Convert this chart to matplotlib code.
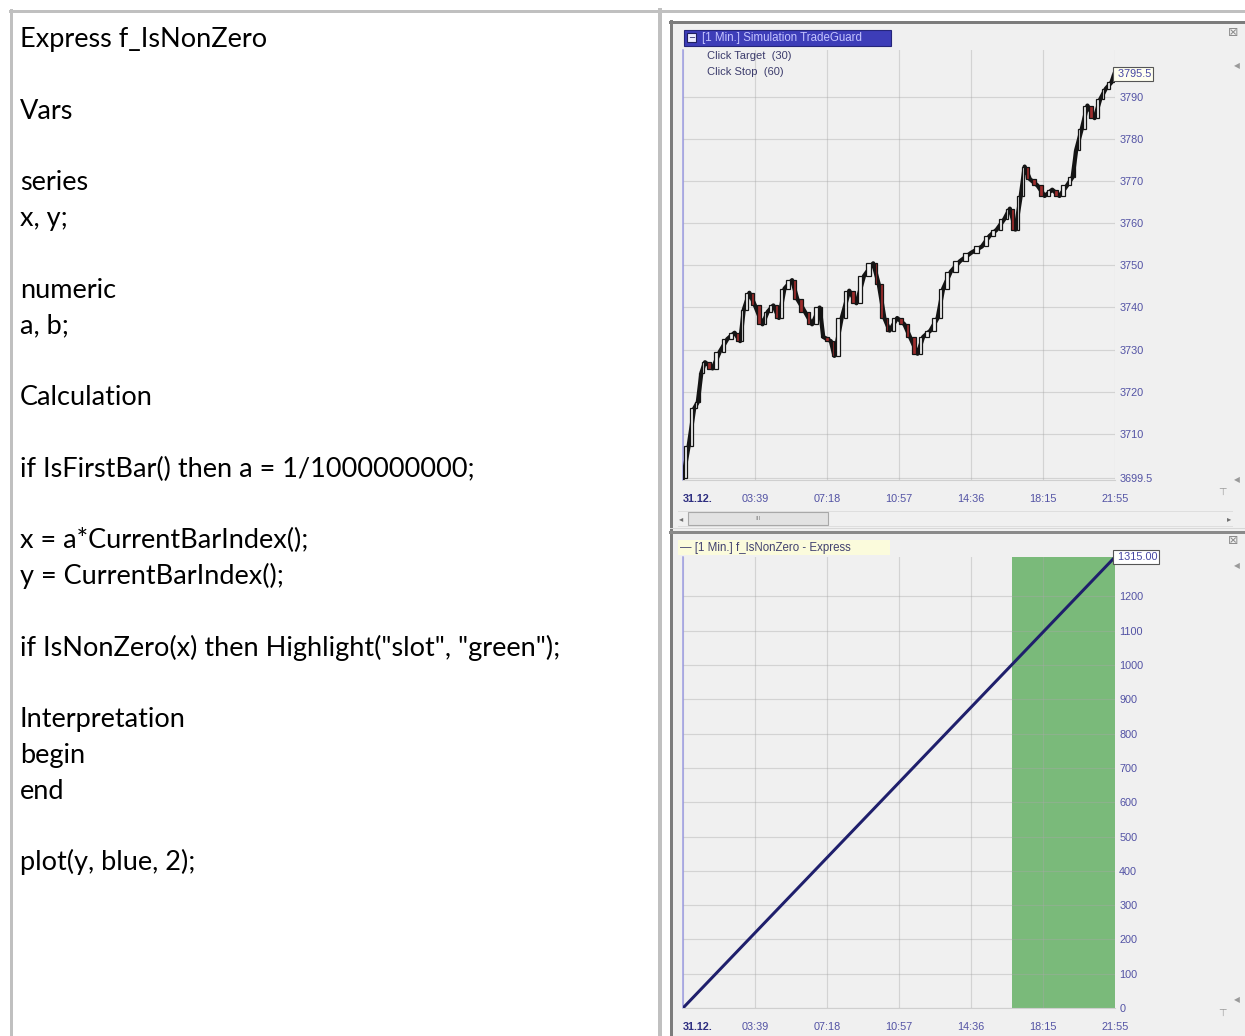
import matplotlib
matplotlib.use("Agg")
import matplotlib.pyplot as plt
from matplotlib.patches import Rectangle
import numpy as np

W, H = 1245, 1036

# text in the left cell (empty strings are blank lines)
code_lines = [
    "Express f_IsNonZero", "", "Vars", "", "series", "x, y;", "",
    "numeric", "a, b;", "", "Calculation", "",
    "if IsFirstBar() then a = 1/1000000000;", "",
    "x = a*CurrentBarIndex();", "y = CurrentBarIndex();", "",
    'if IsNonZero(x) then Highlight("slot", "green");', "",
    "Interpretation", "begin", "end", "", "plot(y, blue, 2);",
]

# time axis (bar index = minutes since 00:00)
time_ticks = [0, 219, 438, 657, 876, 1095, 1315]
time_labels = ["31.12.", "03:39", "07:18", "10:57", "14:36", "18:15", "21:55"]

# price chart
price_bars = [0, 17, 34, 45, 56, 67, 90, 112, 135, 157, 174, 185, 202, 219,
              242, 258, 275, 292, 309, 332, 348, 371, 393, 416, 427, 450,
              461, 483, 506, 528, 551, 579, 596, 613, 629, 652, 674, 691,
              714, 731, 753, 775, 792, 815, 843, 877, 910, 933, 955, 978,
              995, 1012, 1028, 1040, 1056, 1079, 1101, 1124, 1146, 1169,
              1186, 1197, 1214, 1231, 1253, 1270, 1287, 1304, 1313]
price_close = [3699.5, 3707, 3716, 3717.5, 3724.5, 3727, 3725.5, 3729.5,
               3732.5, 3734, 3732, 3739.5, 3743.5, 3740.5, 3736, 3739,
               3740.5, 3737.5, 3744.5, 3746.5, 3742, 3739, 3736, 3740,
               3733, 3732, 3728.5, 3737.5, 3744, 3741, 3747.5, 3750.5,
               3745.5, 3737.5, 3734.5, 3737.5, 3736, 3733, 3729, 3733,
               3734.5, 3737.5, 3744.5, 3748.5, 3751, 3753, 3754.5, 3757,
               3758.5, 3761, 3763.5, 3758.5, 3766.5, 3773.5, 3770.5, 3769,
               3766.5, 3768, 3766.5, 3769, 3771, 3777.5, 3782.5, 3788,
               3785, 3789.5, 3792, 3793.5, 3795.5]
price_ticks = [3699.5, 3710, 3720, 3730, 3740, 3750, 3760, 3770, 3780, 3790]
price_tick_labels = ["3699.5", "3710", "3720", "3730", "3740", "3750",
                     "3760", "3770", "3780", "3790"]
price_last = 3795.5

# indicator pane
ind_bars = [0, 1315]
ind_values = [0, 1315]
ind_ticks = [0, 100, 200, 300, 400, 500, 600, 700, 800, 900, 1000, 1100, 1200]
ind_last = 1315
highlight_from = 1000
highlight_to = 1315

AXIS_BLUE = "#5252a4"
CHART_FONT = "Liberation Sans"


def pt(pixels):
    return pixels * 72 / 100


fig = plt.figure(figsize=(W / 100, H / 100), dpi=100)
fig.patch.set_facecolor("white")

bg = fig.add_axes([0, 0, 1, 1])
bg.set_xlim(0, W)
bg.set_ylim(H, 0)
bg.axis("off")


def overlay_text(x, y, s, **kw):
    # figure-level text in pixel coords, drawn above all panes
    kw.setdefault("family", CHART_FONT)
    return fig.text(x, y, s, transform=bg.transData, **kw)


# table borders
bg.plot([10, W], [11, 11], color="#c0c0c0", lw=pt(3))
bg.plot([11, 11], [10, H], color="#c0c0c0", lw=pt(3))
bg.plot([660, 660], [10, H], color="#c0c0c0", lw=pt(4))

# left cell text
for i, line in enumerate(code_lines):
    bg.text(20, 47 + 35.8 * i, line, ha="left", va="baseline",
            fontsize=19.5, family="Lato", color="black")

# screenshot background
bg.add_patch(Rectangle((670, 21), W - 670, H - 21, facecolor="#f0f0f0",
                       edgecolor="none"))
bg.plot([671, 671], [21, H], color="#7c7c7c", lw=pt(3))
bg.plot([670, W], [22, 22], color="#7c7c7c", lw=pt(3))

# top pane header
bg.add_patch(Rectangle((684, 30), 207, 16, facecolor="#3d3db8",
                       edgecolor="#25257a", lw=0.8))
bg.add_patch(Rectangle((687, 33), 9, 9, facecolor="#ececff",
                       edgecolor="#202060", lw=0.8))
bg.text(691.5, 37.5, "−", ha="center", va="center", fontsize=6,
        color="#202060", family="DejaVu Sans")
bg.text(702, 38, "[1 Min.] Simulation TradeGuard", ha="left", va="center",
        fontsize=8.3, color="#c4c4ff", family=CHART_FONT)

# scrollbar under the top pane
bg.plot([678, 1232], [511, 511], color="#dedede", lw=pt(1))
bg.plot([678, 1232], [526, 526], color="#dedede", lw=pt(1))
bg.add_patch(Rectangle((688, 512), 140, 13, facecolor="#e2e2e2",
                       edgecolor="#a8a8a8", lw=0.8))
bg.text(758, 518.5, "III", ha="center", va="center", fontsize=4.5,
        color="#808080", family=CHART_FONT)
bg.text(681, 518.5, "◂", ha="center", va="center", fontsize=6,
        color="#707070", family="DejaVu Sans")
bg.text(1229, 518.5, "▸", ha="center", va="center", fontsize=6,
        color="#707070", family="DejaVu Sans")

# pane separator
bg.plot([670, W], [528, 528], color="#d8d8d8", lw=pt(1))
bg.plot([670, W], [531.5, 531.5], color="#8a8a8a", lw=pt(3))

# bottom pane header
bg.add_patch(Rectangle((678, 540), 212, 15, facecolor="#fbfbdc",
                       edgecolor="none"))
bg.text(680, 547.5, "— [1 Min.] f_IsNonZero - Express", ha="left",
        va="center", fontsize=8.3, color="#404070", family=CHART_FONT)

# small window icons on the right edge
for y in (33, 541):
    bg.text(1233, y, "⊠", ha="center", va="center", fontsize=9,
            color="#8a8a8a", family="DejaVu Sans")
for y in (66, 480, 566, 1000):
    bg.text(1237, y, "◀", ha="center", va="center", fontsize=5.5,
            color="#9a9a9a", family="DejaVu Sans")
for y in (492, 1013):
    bg.text(1222, y, "⊤", ha="center", va="center", fontsize=7,
            color="#9a9a9a", family="DejaVu Sans")


def pane(x0, y0, x1, y1):
    ax = fig.add_axes([x0 / W, 1 - y1 / H, (x1 - x0) / W, (y1 - y0) / H])
    ax.set_facecolor("#f0f0f0")
    ax.yaxis.tick_right()
    ax.tick_params(length=0, labelsize=7.8, labelcolor=AXIS_BLUE)
    ax.tick_params(axis="y", pad=3)
    ax.tick_params(axis="x", pad=10)
    for side in ("top", "right"):
        ax.spines[side].set_visible(False)
    ax.spines["left"].set_color("#9a9ae2")
    ax.spines["left"].set_linewidth(pt(1.5))
    ax.spines["bottom"].set_color("#cfcfcf")
    ax.grid(True, color="#a8a8a8", alpha=0.4, lw=pt(1.2))
    ax.set_xlim(0, 1315)
    ax.set_xticks(time_ticks)
    ax.set_xticklabels(time_labels, family=CHART_FONT)
    first = ax.get_xticklabels()[0]
    first.set_ha("left")
    first.set_fontweight("bold")
    first.set_color("#2e2e80")
    return ax


# top pane: price chart
ax1 = pane(683, 50, 1115, 480)
ax1.set_ylim(3699.0, 3801.2)
ax1.set_yticks(price_ticks)
ax1.set_yticklabels(price_tick_labels, family=CHART_FONT)

bars = np.array(price_bars)
close = np.array(price_close)
opens = close[:-1]
closes = close[1:]
mids = (bars[:-1] + bars[1:]) / 2
up = closes >= opens
ax1.plot(bars, close, color="#141414", lw=pt(4.2), zorder=3)
ax1.bar(mids, closes - opens, bottom=opens, width=np.diff(bars) * 0.5,
        color=np.where(up, "#f2f2f2", "#9c2c2c"), edgecolor="#141414",
        lw=0.9, zorder=4)
ax1.text(1.0, price_last, " %.1f" % price_last,
         transform=ax1.get_yaxis_transform(), ha="left", va="center",
         fontsize=7.8, color="#4646a2", family=CHART_FONT, zorder=6,
         bbox=dict(boxstyle="square,pad=0.15", fc="#fffff0", ec="#555555",
                   lw=0.8))

# strategy labels sit on top of the price pane
overlay_text(707, 56, "Click Target  (30)", ha="left", va="center",
             fontsize=8, color="#3c3c6c")
overlay_text(707, 72, "Click Stop  (60)", ha="left", va="center",
             fontsize=8, color="#3c3c6c")

# bottom pane: indicator
ax2 = pane(683, 557, 1115, 1008)
ax2.set_ylim(0, 1315)
ax2.set_yticks(ind_ticks)
ax2.set_yticklabels([str(v) for v in ind_ticks], family=CHART_FONT)
ax2.axvspan(highlight_from, highlight_to, color="#7aba7a", lw=0, zorder=1)
ax2.plot(ind_bars, ind_values, color="#1f1f6c", lw=pt(3), zorder=3)
ax2.text(1.0, ind_last, " %.2f" % ind_last,
         transform=ax2.get_yaxis_transform(), ha="left", va="center",
         fontsize=7.8, color="#4646a2", family=CHART_FONT, zorder=6,
         bbox=dict(boxstyle="square,pad=0.15", fc="white", ec="#555555",
                   lw=0.8))

fig.savefig("out.png", dpi=100)
